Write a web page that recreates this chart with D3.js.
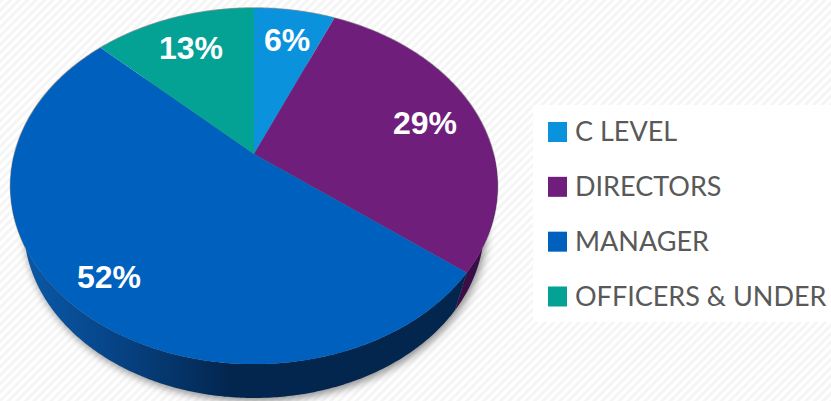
<!DOCTYPE html>
<html>
<head>
<meta charset="utf-8">
<script src="https://cdn.jsdelivr.net/npm/d3@7"></script>
<style>
    html, body { margin: 0; padding: 0; background: #fff; overflow: hidden; }
    .legend-label { font-family: Lato, sans-serif; font-size: 27px; fill: #595959; }
    .slice-label { font-family: "Liberation Sans", Arial, sans-serif; font-size: 32px; font-weight: bold; fill: #fff; text-anchor: middle; }
</style>
</head>
<body>
<svg id="chart" width="831" height="401"></svg>
<script>
const categories = ['C LEVEL', 'DIRECTORS', 'MANAGER', 'OFFICERS & UNDER'];
// measured off the wedges, the labels round these to 6, 29, 52, 13
const shares = [6.4, 29.1, 51.7, 12.8];
const colors = ['#0a92dd', '#6f1f7b', '#0060bd', '#04a195'];
const wallColors = ['#05507a', '#3a0f45', '#03264f', '#035a52'];

const width = 831, height = 401;
const svg = d3.select('#chart');

// tilted disc: apex of the slices is not at the middle of the ellipse
const apex = [254, 154];
const rX = 239.5, rY = 172.3, persp = 0.18;
const rimCentre = [254, 186];

function project(angle) {
    const u = Math.sin(angle);
    const v = Math.cos(angle);
    const w = 1 + persp * v;
    return [apex[0] + rX * u / w, apex[1] - rY * v / w];
}

// lower rim is further from the camera, so a bit smaller than the top one
function projectLower(angle) {
    const [x, y] = project(angle);
    return [
        rimCentre[0] + (x - rimCentre[0]) * 0.945,
        rimCentre[1] + (y - rimCentre[1]) * 0.96 + 41
    ];
}

const line = d3.line();
const defs = svg.append('defs');

const stripes = defs.append('pattern')
    .attr('id', 'stripes')
    .attr('width', 6).attr('height', 6)
    .attr('patternUnits', 'userSpaceOnUse')
    .attr('patternTransform', 'rotate(45)');
stripes.append('rect').attr('width', 6).attr('height', 6).attr('fill', '#fff');
stripes.append('rect').attr('width', 3).attr('height', 6).attr('fill', '#f5f5f5');

const wallGrad = defs.append('linearGradient').attr('id', 'wall-manager');
wallGrad.append('stop').attr('offset', '0').attr('stop-color', '#0b5bab');
wallGrad.append('stop').attr('offset', '0.2').attr('stop-color', '#07478c');
wallGrad.append('stop').attr('offset', '0.48').attr('stop-color', '#03264f');
wallGrad.append('stop').attr('offset', '1').attr('stop-color', '#03264f');

const blur = defs.append('filter').attr('id', 'shadow')
    .attr('x', '-10%').attr('y', '-10%').attr('width', '120%').attr('height', '120%');
blur.append('feGaussianBlur').attr('stdDeviation', 4);

svg.append('rect').attr('width', width).attr('height', height).attr('fill', 'url(#stripes)');

const slices = d3.pie().sort(null)(shares);
const full = d3.range(0, 2 * Math.PI, 0.01);

function arcPoints(a0, a1, fn = project) {
    const n = Math.max(2, Math.ceil((a1 - a0) / 0.01));
    return d3.range(n + 1).map(i => fn(a0 + (a1 - a0) * i / n));
}

// soft shadow round the body of the pie
svg.append('path')
    .attr('d', line(full.map(projectLower)) + 'Z')
    .attr('transform', 'translate(2,3)')
    .attr('fill', '#8a8a8a')
    .attr('filter', 'url(#shadow)');
svg.append('path')
    .attr('d', line(full.map(project)) + 'Z')
    .attr('fill', 'none')
    .attr('stroke', '#9a9a9a')
    .attr('stroke-width', 1.5);

// side wall, the back part stays hidden under the top face
const frontStart = Math.PI / 2;
const frontEnd = 3 * Math.PI / 2;
svg.append('g').selectAll('path')
    .data(slices)
    .join('path')
    .attr('d', d => {
        const a0 = Math.max(d.startAngle, frontStart);
        const a1 = Math.min(d.endAngle, frontEnd);
        if (a1 <= a0) return null;
        return line(arcPoints(a0, a1).concat(arcPoints(a0, a1, projectLower).reverse())) + 'Z';
    })
    .attr('fill', (d, i) => i === 2 ? 'url(#wall-manager)' : wallColors[i]);

// top face
svg.append('g').selectAll('path')
    .data(slices)
    .join('path')
    .attr('d', d => line([apex].concat(arcPoints(d.startAngle, d.endAngle))) + 'Z')
    .attr('fill', (d, i) => colors[i]);

const labelPos = [[287, 51], [425, 134], [109, 288], [191, 59]];
svg.append('g').selectAll('text')
    .data(shares)
    .join('text')
    .attr('class', 'slice-label')
    .attr('x', (d, i) => labelPos[i][0])
    .attr('y', (d, i) => labelPos[i][1])
    .text(d => Math.round(d) + '%');

// legend
svg.append('rect')
    .attr('x', 533).attr('y', 105)
    .attr('width', 298).attr('height', 217)
    .attr('fill', '#fff');

const legendY = d3.scalePoint().domain(categories).range([132, 296.5]);
const legend = svg.append('g').selectAll('g')
    .data(categories)
    .join('g')
    .attr('transform', d => `translate(548,${legendY(d)})`);
legend.append('rect')
    .attr('y', -10)
    .attr('width', 19).attr('height', 20)
    .attr('fill', (d, i) => colors[i]);
legend.append('text')
    .attr('class', 'legend-label')
    .attr('x', 27)
    .attr('y', 9)
    .text(d => d);
</script>
</body>
</html>
